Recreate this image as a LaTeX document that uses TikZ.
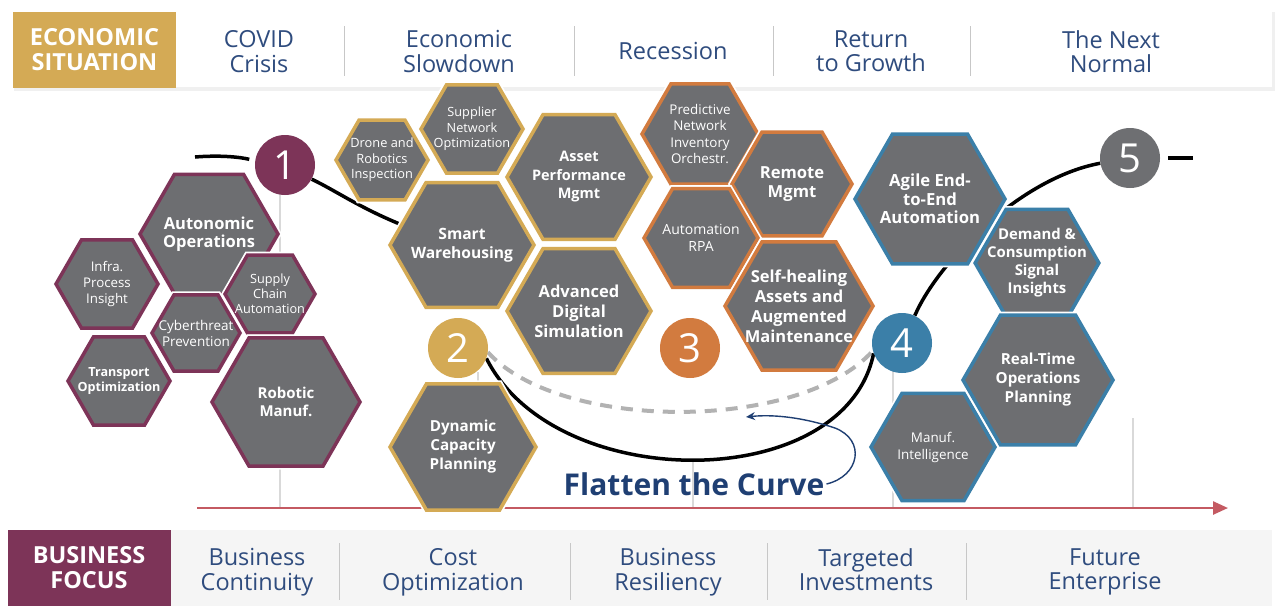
\documentclass[tikz,border=0pt]{standalone}
\usepackage{fontspec}
\setmainfont{Open Sans}
\usetikzlibrary{shapes.geometric,arrows.meta,backgrounds}

\definecolor{hexgray}{HTML}{6D6E71}
\definecolor{plum}{HTML}{7D3458}
\definecolor{gold}{HTML}{D4AA55}
\definecolor{rust}{HTML}{D27B3F}
\definecolor{steel}{HTML}{3B7FA8}
\definecolor{stonegray}{HTML}{6E6F72}
\definecolor{navy}{HTML}{2F4C7E}
\definecolor{deepnavy}{HTML}{1F3F73}
\definecolor{timeline}{HTML}{C45A62}

\newcommand{\fsz}[2]{\fontsize{#1}{#2}\selectfont}

\begin{document}
\begin{tikzpicture}[x=1pt,y=1pt,
    hex/.style={regular polygon, regular polygon sides=6, inner sep=-12pt,
      draw=#1, fill=hexgray, line width=3.5pt, text=white, align=center,
      preaction={draw=white, line width=7pt}},
    stage/.style={circle, fill=#1, minimum size=60pt, inner sep=0pt,
      text=white, font=\fsz{40}{40}},
    toplab/.style={text=navy, align=center, font=\fsz{23.5}{24.5},
      execute at begin node=\strut, execute at end node=\strut},
    headbox/.style={fill=#1, text=white, align=center, minimum width=163pt,
      minimum height=76pt, inner sep=0pt, font=\fsz{23.5}{25}\bfseries},
    sep/.style={draw=black!22, line width=1pt},
    faint/.style={draw=black!15, line width=1.2pt},
    curve/.style={draw=black, line width=3.5pt},
    flatcurve/.style={draw=black!30, line width=4pt, dash pattern=on 12pt off 9pt}]
  \useasboundingbox (0,0) rectangle (1284,-606);

  % economic situation bar
  \fill[black!6] (14,-12) rectangle (1275,-91);
  \fill[white] (12,-10) rectangle (1272,-87);
  \node[headbox=gold] (econ) at (94.5,-50) {ECONOMIC\\SITUATION};
  \node[toplab] (covid) at (259,-55) {COVID\\Crisis};
  \node[toplab] (slow) at (459,-55) {Economic\\Slowdown};
  \node[toplab] (recess) at (673,-55) {Recession};
  \node[toplab] (growth) at (871,-55) {Return\\to Growth};
  \node[toplab] (nextnormal) at (1111,-55) {The Next\\Normal};
  \foreach \x in {344,574,773,970}
    \draw[sep] (\x,-26) -- (\x,-76);

  % business focus bar
  \fill[black!4] (8,-530) rectangle (1272,-606);
  \node[headbox=plum] (focus) at (89,-568) {BUSINESS\\FOCUS};
  \node[toplab] (continuity) at (257,-573) {Business\\Continuity};
  \node[toplab] (costopt) at (453,-573) {Cost\\Optimization};
  \node[toplab] (resil) at (668,-573) {Business\\Resiliency};
  \node[toplab] (invest) at (866,-573) {Targeted\\Investments};
  \node[toplab] (future) at (1105,-573) {Future\\Enterprise};
  \foreach \x in {339,570,767,966}
    \draw[sep] (\x,-543) -- (\x,-600);

  % time axis
  \coordinate (t0) at (197,-508);
  \coordinate (t1) at (1228,-508);
  \draw[timeline, line width=2.5pt, -{Triangle[length=15pt,width=13pt]}] (t0) -- (t1);

  % stage 1
  \node[hex=plum, minimum size=138pt, font=\fsz{16.5}{17.5}\bfseries] (autonomic) at (209,-234) {Autonomic\\Operations};
  \node[hex=plum, minimum size=102pt, font=\fsz{13.3}{16}] (infra) at (107,-284) {Infra.\\Process\\Insight};
  \node[hex=plum, minimum size=90pt, font=\fsz{12.7}{15}] (supply) at (270,-294) {Supply\\Chain\\Automation};
  \node[hex=plum, minimum size=88pt, font=\fsz{13.5}{16}] (cyber) at (196,-333) {Cyberthreat\\Prevention};
  \node[hex=plum, minimum size=102pt, font=\fsz{12.6}{15}\bfseries] (transport) at (119,-381) {Transport\\Optimization};
  \node[hex=plum, minimum size=148pt, font=\fsz{15}{18}\bfseries] (robotic) at (286,-402) {Robotic\\Manuf.};

  % stage 2
  \node[hex=gold, minimum size=92pt, font=\fsz{12.8}{15.5}] (drone) at (382,-160) {Drone and\\Robotics\\Inspection};
  \node[hex=gold, minimum size=102pt, font=\fsz{12.7}{15.5}] (supplier) at (472,-129) {Supplier\\Network\\Optimization};
  \node[hex=gold, minimum size=144pt, font=\fsz{14.5}{18.5}\bfseries] (asset) at (579,-177) {Asset\\Performance\\Mgmt};
  \node[hex=gold, minimum size=144pt, font=\fsz{15.6}{19}\bfseries] (smart) at (462,-245) {Smart\\Warehousing};
  \node[hex=gold, minimum size=144pt, font=\fsz{16.5}{20}\bfseries] (advanced) at (579,-311) {Advanced\\Digital\\Simulation};
  \node[hex=gold, minimum size=146pt, font=\fsz{15.2}{19}\bfseries] (dynamic) at (463,-447) {Dynamic\\Capacity\\Planning};

  % stage 3
  \node[hex=rust, minimum size=116pt, font=\fsz{13.4}{16.5}] (predictive) at (700,-134) {Predictive\\Network\\Inventory\\Orchestr.};
  \node[hex=rust, minimum size=120pt, font=\fsz{16.6}{19}\bfseries] (remote) at (792,-184) {Remote\\Mgmt};
  \node[hex=rust, minimum size=114pt, font=\fsz{14}{17}] (rpa) at (701,-238) {Automation\\RPA};
  \node[hex=rust, minimum size=148pt, font=\fsz{16.5}{20}\bfseries] (selfheal) at (799,-306) {Self-healing\\Assets and\\Augmented\\Maintenance};

  % stage 4
  \node[hex=steel, minimum size=150pt, font=\fsz{16.7}{18.5}\bfseries] (agile) at (930,-199) {Agile End-\\to-End\\Automation};
  \node[hex=steel, minimum size=120pt, font=\fsz{14.9}{18}\bfseries] (demand) at (1037,-263) {Demand \&\\Consumption\\Signal\\Insights};
  \node[hex=steel, minimum size=124pt, font=\fsz{13.4}{17}] (manuf) at (933,-447) {Manuf.\\Intelligence};
  \node[hex=steel, minimum size=150pt, font=\fsz{15.2}{19}\bfseries] (realtime) at (1038,-380) {Real-Time\\Operations\\Planning};

  \node[stage=plum] (c1) at (285,-165) {1};
  \node[stage=gold] (c2) at (458,-348) {2};
  \node[stage=rust] (c3) at (690,-348) {3};
  \node[stage=steel] (c4) at (902,-343) {4};
  \node[stage=stonegray] (c5) at (1130,-158) {5};

  \node[text=deepnavy, inner sep=2pt, font=\fsz{30}{30}\bfseries] (flat) at (694,-484) {Flatten the Curve};
  \coordinate (flattip) at (746,-417);
  \draw[deepnavy, line width=1.4pt, -{Stealth[length=9pt,width=8pt]}] (flat.east)
    .. controls (860,-476) and (866,-440) .. (835,-428)
    .. controls (805,-418) and (775,-414) .. (flattip);

  \begin{scope}[on background layer]
    \fill[white] (0,0) rectangle (1284,-606);
    \foreach \x/\y in {280/165, 478/372, 693/460, 893/343, 1133/418}
      \draw[faint] (\x,-\y) -- (\x,-508);
    \draw[flatcurve] (c2.-8) .. controls (560,-432) and (800,-432) .. (c4.195);
    \draw[curve, shorten >=6pt] (195,-157) .. controls (220,-155) and (240,-157) .. (c1.172);
    \draw[curve] (c1.-28) .. controls (345,-195) and (378,-222) .. (smart.center);
    \draw[curve] (c2.-20) .. controls (555,-495) and (845,-495) .. (c4.200);
    \draw[curve] (c4.65) .. controls (938,-262) and (1020,-178) .. (c5.190);
    \draw[curve, shorten <=8pt] (c5.east) -- (1193,-158);
  \end{scope}
\end{tikzpicture}
\end{document}
